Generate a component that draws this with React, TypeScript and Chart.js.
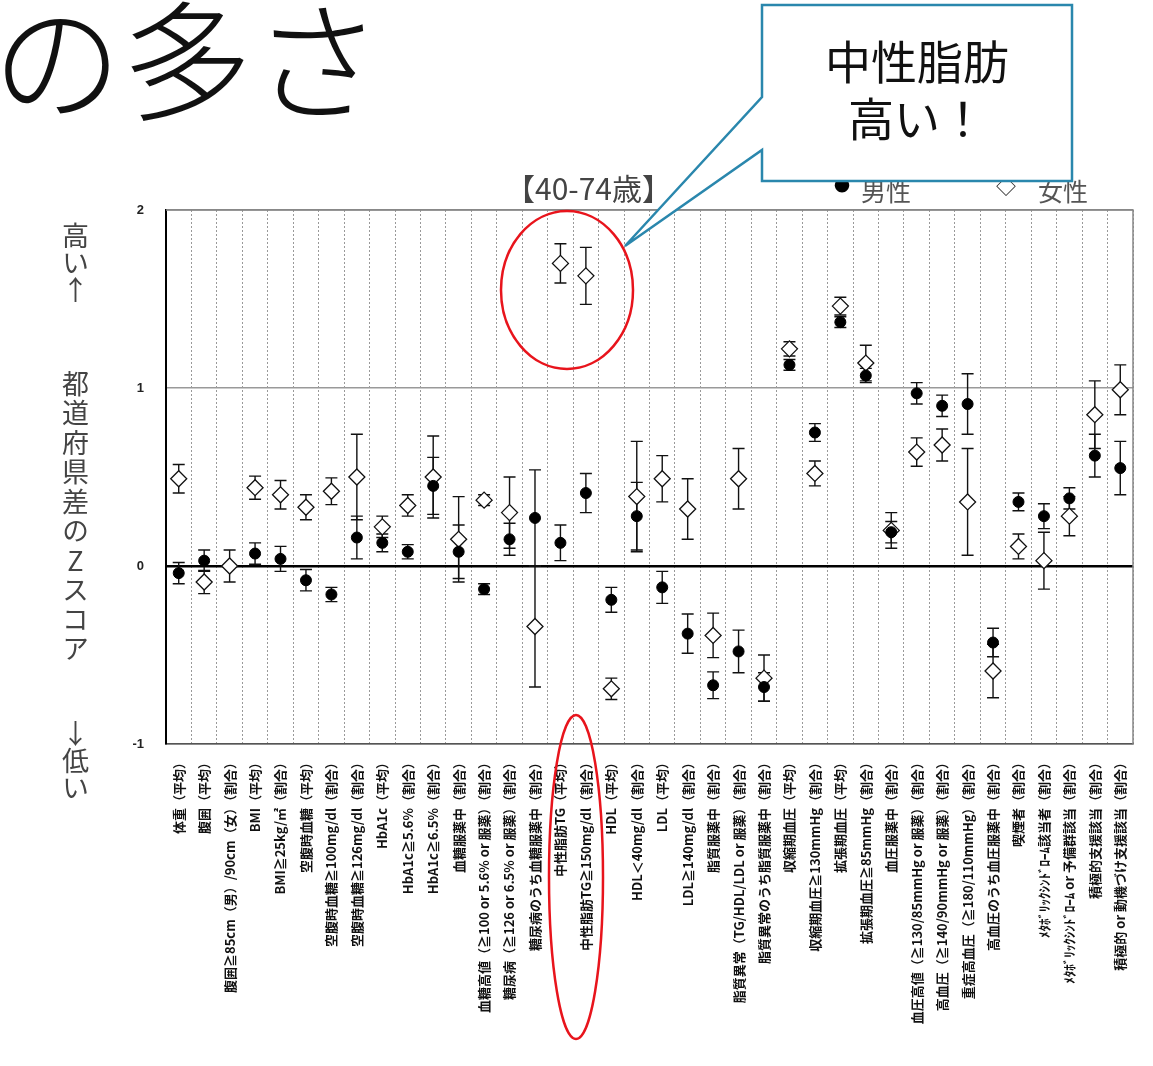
import React, { useEffect, useRef } from "react";
import { Chart, registerables } from "chart.js";

Chart.register(...registerables);

const categories = [
  "体重（平均）",
  "腹囲（平均）",
  "腹囲≧85cm（男）/90cm（女）（割合）",
  "BMI（平均）",
  "BMI≧25kg/㎡（割合）",
  "空腹時血糖（平均）",
  "空腹時血糖≧100mg/dl（割合）",
  "空腹時血糖≧126mg/dl（割合）",
  "HbA1c（平均）",
  "HbA1c≧5.6%（割合）",
  "HbA1c≧6.5%（割合）",
  "血糖服薬中（割合）",
  "血糖高値（≧100 or 5.6% or 服薬）（割合）",
  "糖尿病（≧126 or 6.5% or 服薬）（割合）",
  "糖尿病のうち血糖服薬中（割合）",
  "中性脂肪TG（平均）",
  "中性脂肪TG≧150mg/dl（割合）",
  "HDL（平均）",
  "HDL＜40mg/dl（割合）",
  "LDL（平均）",
  "LDL≧140mg/dl（割合）",
  "脂質服薬中（割合）",
  "脂質異常（TG/HDL/LDL or 服薬）（割合）",
  "脂質異常のうち脂質服薬中（割合）",
  "収縮期血圧（平均）",
  "収縮期血圧≧130mmHg（割合）",
  "拡張期血圧（平均）",
  "拡張期血圧≧85mmHg（割合）",
  "血圧服薬中（割合）",
  "血圧高値（≧130/85mmHg or 服薬）（割合）",
  "高血圧（≧140/90mmHg or 服薬）（割合）",
  "重症高血圧（≧180/110mmHg）（割合）",
  "高血圧のうち血圧服薬中（割合）",
  "喫煙者（割合）",
  "ﾒﾀﾎﾞﾘｯｸｼﾝﾄﾞﾛｰﾑ該当者（割合）",
  "ﾒﾀﾎﾞﾘｯｸｼﾝﾄﾞﾛｰﾑ or 予備群該当（割合）",
  "積極的支援該当（割合）",
  "積極的 or 動機づけ支援該当（割合）",
];

const maleValues = [
  -0.04, 0.03, null, 0.07, 0.04, -0.08, -0.16, 0.16, 0.13, 0.08, 0.45, 0.08, -0.13,
  0.15, 0.27, 0.13, 0.41, -0.19, 0.28, -0.12, -0.38, -0.67, -0.48, -0.68, 1.13, 0.75,
  1.37, 1.07, 0.19, 0.97, 0.9, 0.91, -0.43, 0.36, 0.28, 0.38, 0.62, 0.55,
];
const maleErrors = [
  0.06, 0.06, null, 0.06, 0.07, 0.06, 0.04, 0.12, 0.05, 0.04, 0.16, 0.15, 0.03,
  0.09, 0.27, 0.1, 0.11, 0.07, 0.19, 0.09, 0.11, 0.075, 0.12, 0.08, 0.03, 0.05,
  0.03, 0.04, 0.06, 0.06, 0.06, 0.17, 0.08, 0.05, 0.07, 0.06, 0.12, 0.15,
];
const femaleValues = [
  0.49, -0.09, 0.0, 0.44, 0.4, 0.33, 0.42, 0.5, 0.22, 0.34, 0.5, 0.15, 0.37, 0.3,
  -0.34, 1.7, 1.63, -0.69, 0.39, 0.49, 0.32, -0.39, 0.49, -0.63, 1.22, 0.52, 1.46,
  1.14, 0.2, 0.64, 0.68, 0.36, -0.59, 0.11, 0.03, 0.28, 0.85, 0.99,
];
const femaleErrors = [
  0.08, 0.065, 0.09, 0.065, 0.08, 0.07, 0.075, 0.24, 0.06, 0.06, 0.23, 0.24, 0.03,
  0.2, 0.34, 0.11, 0.16, 0.06, 0.31, 0.13, 0.17, 0.125, 0.17, 0.13, 0.04, 0.07,
  0.05, 0.1, 0.1, 0.08, 0.09, 0.3, 0.15, 0.07, 0.16, 0.11, 0.19, 0.14,
];
const yMin = -1;
const yMax = 2;
const yStep = 1;

const seriesValues = [maleValues, femaleValues];
const seriesErrors = [maleErrors, femaleErrors];

const errorBarPlugin = {
  id: "errorBars",
  beforeDatasetsDraw(chart: any) {
    const { ctx } = chart;
    const yScale = chart.scales.y;
    ctx.save();
    ctx.strokeStyle = "#111";
    ctx.lineWidth = 1.4;
    chart.data.datasets.forEach((_ds: any, di: number) => {
      const meta = chart.getDatasetMeta(di);
      meta.data.forEach((pt: any, i: number) => {
        const v = seriesValues[di][i];
        const e = seriesErrors[di][i];
        if (v == null || e == null) return;
        const x = pt.x;
        const yTop = yScale.getPixelForValue(v + e);
        const yBot = yScale.getPixelForValue(v - e);
        ctx.beginPath();
        ctx.moveTo(x, yTop);
        ctx.lineTo(x, yBot);
        ctx.moveTo(x - 6, yTop);
        ctx.lineTo(x + 6, yTop);
        ctx.moveTo(x - 6, yBot);
        ctx.lineTo(x + 6, yBot);
        ctx.stroke();
      });
    });
    ctx.restore();
  },
};

const framePlugin = {
  id: "frame",
  beforeDatasetsDraw(chart: any) {
    const { ctx, chartArea } = chart;
    ctx.save();
    ctx.strokeStyle = "#888";
    ctx.lineWidth = 1.5;
    ctx.beginPath();
    ctx.moveTo(chartArea.left, chartArea.top);
    ctx.lineTo(chartArea.right, chartArea.top);
    ctx.lineTo(chartArea.right, chartArea.bottom);
    ctx.stroke();
    ctx.restore();
  },
};

export default function App() {
  const canvasRef = useRef<HTMLCanvasElement | null>(null);

  useEffect(() => {
    if (!canvasRef.current) return;
    const chart = new Chart(canvasRef.current, {
      type: "line",
      data: {
        labels: categories,
        datasets: [
          {
            label: "男性",
            data: maleValues,
            showLine: false,
            pointStyle: "circle",
            pointRadius: 5.5,
            pointBackgroundColor: "#000",
            pointBorderColor: "#000",
            pointBorderWidth: 1,
          },
          {
            label: "女性",
            data: femaleValues,
            showLine: false,
            pointStyle: "rectRot",
            pointRadius: 8,
            pointBackgroundColor: "#fff",
            pointBorderColor: "#111",
            pointBorderWidth: 1.3,
          },
        ],
      } as any,
      options: {
        responsive: false,
        animation: false,
        layout: { padding: { left: 0, right: 20, top: 210, bottom: 0 } },
        plugins: {
          legend: { display: false },
          tooltip: { enabled: false },
          title: { display: false },
        },
        scales: {
          x: {
            type: "category",
            offset: true,
            grid: { offset: true, color: "#999", lineWidth: 1, drawTicks: false },
            border: { display: true, color: "#555", width: 1.5, dash: [2, 2] },
            ticks: {
              autoSkip: false,
              minRotation: 90,
              maxRotation: 90,
              padding: 12,
              color: "#111",
              font: { family: "'Noto Sans CJK JP', sans-serif", size: 13, weight: "bold" },
            },
            afterFit: (s: any) => {
              s.height = 322;
            },
          },
          y: {
            min: yMin,
            max: yMax,
            ticks: {
              stepSize: yStep,
              padding: 22,
              color: "#222",
              font: { family: "'Liberation Sans', sans-serif", size: 13, weight: "bold" },
            },
            grid: {
              drawTicks: false,
              color: (c: any) => (c.tick && c.tick.value === 0 ? "#000" : c.tick && c.tick.value === 1 ? "#999" : "#888"),
              lineWidth: (c: any) => (c.tick && c.tick.value === 0 ? 2.6 : 1.5),
            },
            border: { color: "#000", width: 2 },
            afterFit: (s: any) => {
              s.width = 166;
            },
          },
        },
      } as any,
      plugins: [framePlugin, errorBarPlugin],
    });
    return () => chart.destroy();
  }, []);

  const jp = "'Noto Sans CJK JP', sans-serif";
  const vertical: React.CSSProperties = {
    position: "absolute",
    writingMode: "vertical-rl",
    textOrientation: "upright",
    fontFamily: jp,
    fontSize: 27,
    lineHeight: "30px",
    color: "#444",
    whiteSpace: "nowrap",
  };

  return (
    <div
      style={{
        position: "fixed",
        left: 0,
        top: 0,
        width: 1153,
        height: 1066,
        background: "#fff",
        overflow: "hidden",
      }}
    >
      <canvas
        ref={canvasRef}
        width={1153}
        height={1066}
        style={{ position: "absolute", left: 0, top: 0, width: 1153, height: 1066 }}
      />
      <div
        style={{
          position: "absolute",
          left: -8,
          top: -12,
          fontFamily: jp,
          fontSize: 130,
          fontWeight: 300,
          lineHeight: 1,
          color: "#111",
          whiteSpace: "nowrap",
        }}
      >
        の多さ
      </div>
      <div
        style={{
          position: "absolute",
          left: 505,
          top: 172,
          fontFamily: jp,
          fontSize: 30,
          lineHeight: 1,
          color: "#444",
          whiteSpace: "nowrap",
        }}
      >
        【40-74歳】
      </div>
      <div
        style={{
          position: "absolute",
          left: 834,
          top: 176,
          fontFamily: jp,
          fontSize: 16,
          lineHeight: 1,
          color: "#000",
        }}
      >
        ●
      </div>
      <div
        style={{
          position: "absolute",
          left: 861,
          top: 178,
          fontFamily: jp,
          fontSize: 25,
          lineHeight: 1,
          color: "#555",
        }}
      >
        男性
      </div>
      <div
        style={{
          position: "absolute",
          left: 996,
          top: 176,
          fontFamily: jp,
          fontSize: 20,
          lineHeight: 1,
          color: "#222",
        }}
      >
        ◇
      </div>
      <div
        style={{
          position: "absolute",
          left: 1038,
          top: 178,
          fontFamily: jp,
          fontSize: 25,
          lineHeight: 1,
          color: "#555",
        }}
      >
        女性
      </div>
      <div style={{ ...vertical, left: 60, top: 222 }}>高い↑</div>
      <div style={{ ...vertical, left: 60, top: 370, letterSpacing: 2.5 }}>都道府県差のZスコア</div>
      <div style={{ ...vertical, left: 60, top: 720 }}>↓低い</div>
      <svg
        width={1153}
        height={1066}
        style={{ position: "absolute", left: 0, top: 0, pointerEvents: "none" }}
      >
        <path
          d="M762,5 L1072,5 L1072,181 L762,181 L762,150 L625,246 L762,97 Z"
          fill="#fff"
          stroke="#2a87ad"
          strokeWidth={2.5}
        />
        <ellipse cx={567} cy={290} rx={66} ry={79} fill="none" stroke="#e8141c" strokeWidth={2.5} />
        <ellipse cx={576} cy={877} rx={27} ry={162} fill="none" stroke="#e8141c" strokeWidth={2.5} />
      </svg>
      <div
        style={{
          position: "absolute",
          left: 762,
          top: 31,
          width: 310,
          textAlign: "center",
          fontFamily: jp,
          fontSize: 46,
          lineHeight: "57px",
          color: "#111",
        }}
      >
        中性脂肪
        <br />
        高い！
      </div>
    </div>
  );
}
